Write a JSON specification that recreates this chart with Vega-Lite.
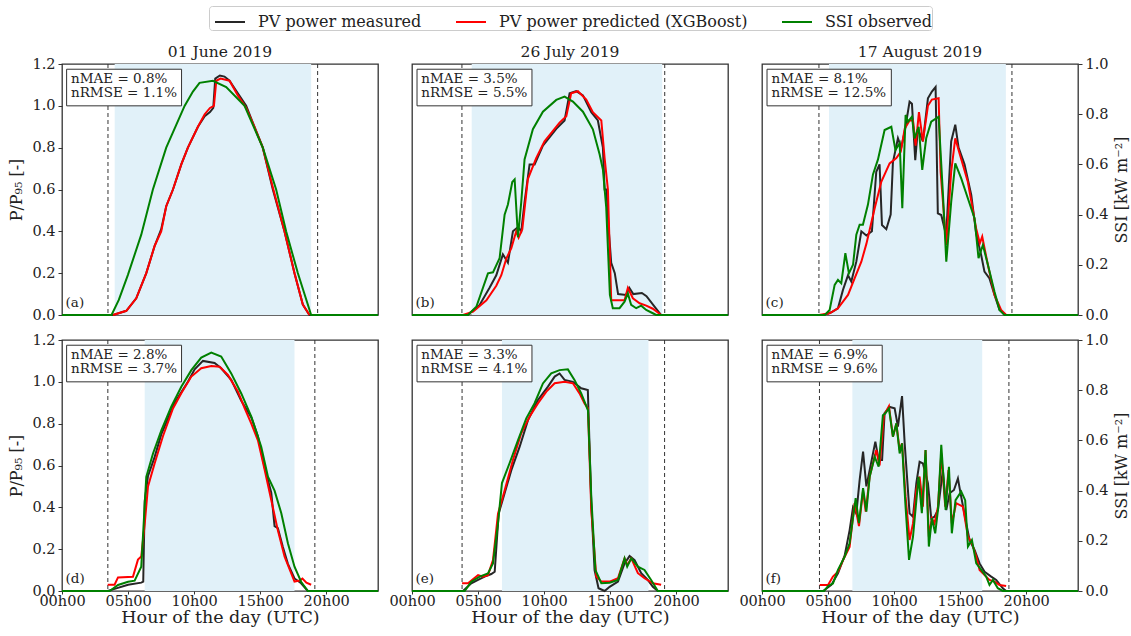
{
"$schema": "https://vega.github.io/schema/vega-lite/v6.json",
"padding": {"left": 8, "top": 5, "right": 5, "bottom": 5},
"background": "white",
"datasets": {
"aM": [{"h":0,"v":0},{"h":3.86,"v":0},{"h":4.87,"v":0.02},{"h":5.62,"v":0.08},{"h":6.38,"v":0.2},{"h":7.01,"v":0.33},{"h":7.51,"v":0.41},{"h":7.89,"v":0.52},{"h":8.4,"v":0.6},{"h":9.03,"v":0.72},{"h":9.53,"v":0.8},{"h":10.29,"v":0.9},{"h":10.8,"v":0.95},{"h":11.2,"v":0.97},{"h":11.45,"v":0.99},{"h":11.6,"v":1.13},{"h":11.95,"v":1.145},{"h":12.3,"v":1.14},{"h":12.68,"v":1.12},{"h":13.31,"v":1.06},{"h":13.94,"v":1.0},{"h":14.5,"v":0.91},{"h":15.2,"v":0.8},{"h":15.96,"v":0.6},{"h":16.84,"v":0.4},{"h":17.6,"v":0.2},{"h":18.23,"v":0.05},{"h":18.73,"v":0},{"h":23.92,"v":0}],
"aX": [{"h":3.86,"v":0},{"h":4.87,"v":0.02},{"h":5.62,"v":0.08},{"h":6.38,"v":0.2},{"h":7.01,"v":0.33},{"h":7.51,"v":0.4},{"h":7.89,"v":0.52},{"h":8.4,"v":0.6},{"h":9.03,"v":0.72},{"h":9.53,"v":0.8},{"h":10.29,"v":0.9},{"h":10.8,"v":0.96},{"h":11.2,"v":0.99},{"h":11.5,"v":1.0},{"h":11.68,"v":1.12},{"h":12.0,"v":1.13},{"h":12.68,"v":1.12},{"h":13.31,"v":1.05},{"h":13.94,"v":0.99},{"h":14.5,"v":0.91},{"h":15.2,"v":0.8},{"h":15.96,"v":0.61},{"h":16.84,"v":0.4},{"h":17.6,"v":0.2},{"h":18.23,"v":0.05},{"h":18.73,"v":0}],
"aS": [{"h":0,"v":0},{"h":3.75,"v":0},{"h":4.3,"v":0.06},{"h":4.99,"v":0.16},{"h":6.0,"v":0.32},{"h":6.88,"v":0.5},{"h":7.89,"v":0.667},{"h":9.28,"v":0.833},{"h":9.91,"v":0.89},{"h":10.41,"v":0.925},{"h":11.42,"v":0.933},{"h":12.43,"v":0.908},{"h":13.82,"v":0.833},{"h":15.2,"v":0.667},{"h":16.21,"v":0.5},{"h":16.97,"v":0.333},{"h":17.85,"v":0.167},{"h":18.86,"v":0},{"h":23.92,"v":0}],
"bM": [{"h":0,"v":0},{"h":4.2,"v":0},{"h":5.12,"v":0.048},{"h":5.87,"v":0.13},{"h":6.38,"v":0.19},{"h":6.88,"v":0.29},{"h":7.26,"v":0.25},{"h":7.64,"v":0.4},{"h":8.02,"v":0.42},{"h":8.27,"v":0.4},{"h":8.52,"v":0.54},{"h":8.9,"v":0.72},{"h":9.28,"v":0.72},{"h":9.91,"v":0.81},{"h":10.92,"v":0.89},{"h":11.55,"v":0.93},{"h":11.93,"v":1.06},{"h":12.43,"v":1.07},{"h":12.94,"v":1.05},{"h":13.57,"v":0.97},{"h":14.07,"v":0.93},{"h":14.45,"v":0.8},{"h":14.58,"v":0.6},{"h":14.72,"v":0.6},{"h":14.9,"v":0.4},{"h":15.08,"v":0.25},{"h":15.35,"v":0.2},{"h":15.6,"v":0.1},{"h":16.2,"v":0.096},{"h":16.45,"v":0.13},{"h":16.75,"v":0.1},{"h":17.4,"v":0.105},{"h":17.75,"v":0.09},{"h":18.3,"v":0.045},{"h":18.86,"v":0},{"h":23.92,"v":0}],
"bX": [{"h":3.86,"v":0},{"h":4.62,"v":0.016},{"h":5.63,"v":0.07},{"h":6.38,"v":0.14},{"h":6.76,"v":0.19},{"h":7.14,"v":0.27},{"h":7.52,"v":0.32},{"h":7.89,"v":0.4},{"h":8.07,"v":0.37},{"h":8.35,"v":0.41},{"h":8.77,"v":0.65},{"h":9.4,"v":0.75},{"h":10.03,"v":0.83},{"h":10.67,"v":0.88},{"h":11.17,"v":0.92},{"h":11.68,"v":0.95},{"h":12.05,"v":1.06},{"h":12.56,"v":1.07},{"h":13.19,"v":1.03},{"h":13.69,"v":0.97},{"h":14.33,"v":0.93},{"h":14.58,"v":0.75},{"h":14.83,"v":0.6},{"h":15.08,"v":0.07},{"h":15.71,"v":0.07},{"h":16.09,"v":0.07},{"h":16.34,"v":0.13},{"h":16.72,"v":0.08},{"h":17.23,"v":0.056},{"h":17.73,"v":0.045},{"h":18.23,"v":0.03},{"h":18.86,"v":0}],
"bS": [{"h":0,"v":0},{"h":4.24,"v":0},{"h":4.87,"v":0.033},{"h":5.75,"v":0.166},{"h":6.13,"v":0.17},{"h":6.63,"v":0.226},{"h":7.01,"v":0.4},{"h":7.26,"v":0.44},{"h":7.59,"v":0.53},{"h":7.77,"v":0.54},{"h":8.02,"v":0.31},{"h":8.27,"v":0.45},{"h":8.52,"v":0.62},{"h":9.15,"v":0.74},{"h":9.91,"v":0.81},{"h":10.92,"v":0.857},{"h":11.55,"v":0.87},{"h":12.18,"v":0.85},{"h":12.94,"v":0.81},{"h":13.69,"v":0.74},{"h":14.2,"v":0.64},{"h":14.45,"v":0.58},{"h":14.7,"v":0.43},{"h":14.98,"v":0.08},{"h":15.2,"v":0.027},{"h":15.71,"v":0.027},{"h":16.09,"v":0.053},{"h":16.34,"v":0.086},{"h":16.59,"v":0.04},{"h":16.97,"v":0.027},{"h":17.35,"v":0.037},{"h":17.73,"v":0.02},{"h":18.23,"v":0.007},{"h":18.48,"v":0},{"h":23.92,"v":0}],
"cM": [{"h":0,"v":0},{"h":4.62,"v":0},{"h":5.25,"v":0.013},{"h":5.75,"v":0.032},{"h":6.13,"v":0.12},{"h":6.51,"v":0.19},{"h":6.76,"v":0.16},{"h":7.14,"v":0.255},{"h":7.52,"v":0.4},{"h":7.9,"v":0.38},{"h":8.32,"v":0.4},{"h":8.65,"v":0.685},{"h":8.9,"v":0.72},{"h":9.08,"v":0.43},{"h":9.41,"v":0.41},{"h":9.74,"v":0.48},{"h":9.91,"v":0.73},{"h":10.29,"v":0.845},{"h":10.54,"v":0.8},{"h":10.8,"v":0.876},{"h":11.17,"v":1.02},{"h":11.35,"v":1.01},{"h":11.6,"v":0.74},{"h":11.8,"v":0.89},{"h":12.18,"v":0.83},{"h":12.56,"v":1.036},{"h":12.86,"v":1.068},{"h":13.14,"v":1.09},{"h":13.31,"v":0.486},{"h":13.57,"v":0.478},{"h":13.94,"v":0.38},{"h":14.32,"v":0.83},{"h":14.63,"v":0.91},{"h":14.88,"v":0.8},{"h":15.33,"v":0.72},{"h":15.84,"v":0.574},{"h":16.21,"v":0.39},{"h":16.59,"v":0.287},{"h":16.84,"v":0.207},{"h":17.22,"v":0.175},{"h":17.6,"v":0.096},{"h":17.98,"v":0.024},{"h":18.48,"v":0},{"h":23.92,"v":0}],
"cX": [{"h":4.31,"v":0},{"h":5.12,"v":0.008},{"h":5.75,"v":0.032},{"h":6.51,"v":0.096},{"h":7.01,"v":0.175},{"h":7.52,"v":0.255},{"h":7.9,"v":0.34},{"h":8.53,"v":0.51},{"h":9.03,"v":0.637},{"h":9.66,"v":0.725},{"h":10.17,"v":0.75},{"h":10.5,"v":0.78},{"h":10.8,"v":0.89},{"h":11.17,"v":0.93},{"h":11.43,"v":0.93},{"h":11.63,"v":0.81},{"h":11.88,"v":0.97},{"h":12.18,"v":0.83},{"h":12.56,"v":1.0},{"h":12.86,"v":1.03},{"h":13.37,"v":1.036},{"h":13.52,"v":0.685},{"h":13.95,"v":0.335},{"h":14.32,"v":0.685},{"h":14.63,"v":0.845},{"h":14.95,"v":0.773},{"h":15.58,"v":0.637},{"h":16.21,"v":0.414},{"h":16.49,"v":0.343},{"h":16.67,"v":0.375},{"h":17.1,"v":0.239},{"h":17.6,"v":0.096},{"h":18.1,"v":0.024},{"h":18.48,"v":0}],
"cS": [{"h":0,"v":0},{"h":4.75,"v":0},{"h":5.12,"v":0.02},{"h":5.5,"v":0.12},{"h":5.75,"v":0.14},{"h":6.0,"v":0.126},{"h":6.31,"v":0.246},{"h":6.58,"v":0.166},{"h":6.89,"v":0.2},{"h":7.14,"v":0.32},{"h":7.39,"v":0.36},{"h":7.64,"v":0.36},{"h":8.02,"v":0.44},{"h":8.4,"v":0.56},{"h":8.78,"v":0.62},{"h":9.28,"v":0.737},{"h":9.79,"v":0.75},{"h":10.1,"v":0.657},{"h":10.42,"v":0.684},{"h":10.62,"v":0.425},{"h":10.87,"v":0.797},{"h":11.05,"v":0.77},{"h":11.35,"v":0.79},{"h":11.55,"v":0.704},{"h":11.86,"v":0.75},{"h":12.13,"v":0.578},{"h":12.43,"v":0.704},{"h":12.81,"v":0.77},{"h":13.37,"v":0.79},{"h":13.7,"v":0.478},{"h":13.95,"v":0.212},{"h":14.32,"v":0.45},{"h":14.63,"v":0.604},{"h":15.08,"v":0.544},{"h":15.58,"v":0.465},{"h":16.09,"v":0.385},{"h":16.39,"v":0.226},{"h":16.72,"v":0.279},{"h":17.1,"v":0.2},{"h":17.6,"v":0.093},{"h":17.98,"v":0.02},{"h":18.35,"v":0},{"h":23.92,"v":0}],
"dM": [{"h":0,"v":0},{"h":3.46,"v":0},{"h":3.98,"v":0.01},{"h":5.0,"v":0.03},{"h":6.0,"v":0.04},{"h":6.15,"v":0.045},{"h":6.26,"v":0.43},{"h":6.51,"v":0.55},{"h":7.01,"v":0.64},{"h":7.52,"v":0.75},{"h":8.53,"v":0.9},{"h":9.53,"v":1.0},{"h":10.04,"v":1.06},{"h":10.67,"v":1.1},{"h":11.55,"v":1.09},{"h":12.05,"v":1.065},{"h":12.81,"v":1.01},{"h":13.57,"v":0.91},{"h":14.33,"v":0.83},{"h":14.83,"v":0.74},{"h":15.34,"v":0.59},{"h":15.84,"v":0.47},{"h":16.09,"v":0.31},{"h":16.34,"v":0.3},{"h":16.72,"v":0.21},{"h":17.1,"v":0.13},{"h":17.6,"v":0.06},{"h":18.1,"v":0.037},{"h":18.61,"v":0},{"h":23.92,"v":0}],
"dX": [{"h":3.46,"v":0.03},{"h":3.98,"v":0.03},{"h":4.24,"v":0.065},{"h":5.37,"v":0.068},{"h":5.75,"v":0.15},{"h":6.0,"v":0.165},{"h":6.26,"v":0.32},{"h":6.51,"v":0.5},{"h":7.01,"v":0.61},{"h":7.64,"v":0.74},{"h":8.4,"v":0.873},{"h":9.03,"v":0.945},{"h":9.79,"v":1.025},{"h":10.54,"v":1.065},{"h":11.3,"v":1.076},{"h":11.93,"v":1.072},{"h":12.56,"v":1.033},{"h":13.32,"v":0.953},{"h":13.83,"v":0.873},{"h":14.33,"v":0.8},{"h":14.83,"v":0.72},{"h":15.34,"v":0.58},{"h":15.84,"v":0.435},{"h":16.34,"v":0.29},{"h":16.85,"v":0.164},{"h":17.6,"v":0.045},{"h":17.98,"v":0.05},{"h":18.2,"v":0.06},{"h":18.5,"v":0.04},{"h":18.86,"v":0.03}],
"dS": [{"h":0,"v":0},{"h":3.61,"v":0},{"h":4.24,"v":0.024},{"h":5.0,"v":0.037},{"h":5.5,"v":0.041},{"h":6.0,"v":0.097},{"h":6.38,"v":0.455},{"h":6.89,"v":0.548},{"h":7.52,"v":0.64},{"h":8.27,"v":0.734},{"h":9.03,"v":0.814},{"h":9.79,"v":0.88},{"h":10.54,"v":0.93},{"h":11.3,"v":0.95},{"h":12.05,"v":0.934},{"h":12.81,"v":0.867},{"h":13.57,"v":0.787},{"h":14.33,"v":0.695},{"h":15.08,"v":0.575},{"h":15.59,"v":0.455},{"h":16.09,"v":0.4},{"h":16.6,"v":0.31},{"h":17.1,"v":0.19},{"h":17.6,"v":0.097},{"h":18.1,"v":0.037},{"h":18.61,"v":0},{"h":23.92,"v":0}],
"eM": [{"h":0,"v":0},{"h":3.86,"v":0},{"h":4.49,"v":0.037},{"h":5.0,"v":0.053},{"h":5.5,"v":0.069},{"h":6.0,"v":0.081},{"h":6.26,"v":0.092},{"h":6.56,"v":0.37},{"h":7.01,"v":0.467},{"h":7.52,"v":0.578},{"h":8.15,"v":0.69},{"h":8.78,"v":0.817},{"h":9.53,"v":0.913},{"h":10.29,"v":0.977},{"h":10.8,"v":1.025},{"h":11.17,"v":1.04},{"h":11.55,"v":1.009},{"h":12.18,"v":1.0},{"h":12.81,"v":0.969},{"h":13.31,"v":0.961},{"h":13.57,"v":0.42},{"h":13.82,"v":0.1},{"h":14.12,"v":0.013},{"h":14.58,"v":0},{"h":14.96,"v":0.02},{"h":15.59,"v":0.045},{"h":16.09,"v":0.132},{"h":16.47,"v":0.167},{"h":16.85,"v":0.148},{"h":17.35,"v":0.085},{"h":17.85,"v":0.053},{"h":18.23,"v":0.02},{"h":18.61,"v":0},{"h":23.92,"v":0}],
"eX": [{"h":3.79,"v":0.037},{"h":4.24,"v":0.037},{"h":5.0,"v":0.076},{"h":5.37,"v":0.068},{"h":5.75,"v":0.076},{"h":6.13,"v":0.148},{"h":6.51,"v":0.37},{"h":7.01,"v":0.48},{"h":7.64,"v":0.626},{"h":8.27,"v":0.754},{"h":8.9,"v":0.833},{"h":9.53,"v":0.897},{"h":10.17,"v":0.953},{"h":10.8,"v":0.993},{"h":11.55,"v":1.0},{"h":12.18,"v":0.993},{"h":12.68,"v":0.945},{"h":13.06,"v":0.897},{"h":13.32,"v":0.873},{"h":13.57,"v":0.387},{"h":13.95,"v":0.069},{"h":14.33,"v":0.045},{"h":14.96,"v":0.045},{"h":15.59,"v":0.061},{"h":16.09,"v":0.156},{"h":16.29,"v":0.124},{"h":16.6,"v":0.156},{"h":17.1,"v":0.085},{"h":17.6,"v":0.061},{"h":18.23,"v":0.037},{"h":18.86,"v":0.03}],
"eS": [{"h":0,"v":0},{"h":3.99,"v":0},{"h":4.49,"v":0.037},{"h":5.12,"v":0.057},{"h":5.75,"v":0.07},{"h":6.13,"v":0.11},{"h":6.51,"v":0.27},{"h":6.81,"v":0.43},{"h":7.39,"v":0.51},{"h":8.02,"v":0.6},{"h":8.65,"v":0.688},{"h":9.28,"v":0.748},{"h":9.91,"v":0.827},{"h":10.54,"v":0.867},{"h":11.17,"v":0.88},{"h":11.8,"v":0.883},{"h":12.31,"v":0.84},{"h":12.81,"v":0.787},{"h":13.32,"v":0.72},{"h":13.57,"v":0.376},{"h":13.88,"v":0.084},{"h":14.33,"v":0.031},{"h":14.96,"v":0.033},{"h":15.59,"v":0.044},{"h":16.09,"v":0.13},{"h":16.29,"v":0.097},{"h":16.6,"v":0.13},{"h":17.1,"v":0.097},{"h":17.6,"v":0.084},{"h":18.1,"v":0.044},{"h":18.61,"v":0},{"h":23.92,"v":0}],
"fM": [{"h":0,"v":0},{"h":4.62,"v":0},{"h":5.25,"v":0.029},{"h":5.75,"v":0.084},{"h":6.26,"v":0.17},{"h":6.63,"v":0.29},{"h":6.89,"v":0.4},{"h":7.14,"v":0.37},{"h":7.39,"v":0.53},{"h":7.65,"v":0.666},{"h":7.9,"v":0.5},{"h":8.15,"v":0.578},{"h":8.58,"v":0.714},{"h":8.83,"v":0.626},{"h":9.09,"v":0.626},{"h":9.28,"v":0.85},{"h":9.66,"v":0.88},{"h":10.04,"v":0.873},{"h":10.29,"v":0.786},{"h":10.6,"v":0.932},{"h":10.8,"v":0.706},{"h":11.17,"v":0.371},{"h":11.43,"v":0.355},{"h":11.68,"v":0.515},{"h":11.93,"v":0.618},{"h":12.18,"v":0.61},{"h":12.56,"v":0.515},{"h":12.81,"v":0.347},{"h":13.06,"v":0.355},{"h":13.32,"v":0.387},{"h":13.69,"v":0.578},{"h":13.95,"v":0.387},{"h":14.2,"v":0.467},{"h":14.53,"v":0.483},{"h":14.83,"v":0.538},{"h":15.08,"v":0.45},{"h":15.46,"v":0.323},{"h":15.71,"v":0.244},{"h":16.09,"v":0.196},{"h":16.47,"v":0.132},{"h":16.85,"v":0.092},{"h":17.35,"v":0.069},{"h":17.73,"v":0.053},{"h":18.23,"v":0.013},{"h":18.48,"v":0},{"h":23.92,"v":0}],
"fX": [{"h":4.37,"v":0.029},{"h":5.0,"v":0.029},{"h":5.37,"v":0.069},{"h":5.75,"v":0.092},{"h":6.26,"v":0.164},{"h":6.63,"v":0.21},{"h":7.01,"v":0.42},{"h":7.34,"v":0.31},{"h":7.65,"v":0.48},{"h":7.85,"v":0.38},{"h":8.15,"v":0.547},{"h":8.65,"v":0.674},{"h":8.9,"v":0.6},{"h":9.23,"v":0.84},{"h":9.61,"v":0.884},{"h":9.91,"v":0.738},{"h":10.17,"v":0.8},{"h":10.42,"v":0.674},{"h":10.6,"v":0.706},{"h":10.87,"v":0.45},{"h":11.17,"v":0.244},{"h":11.43,"v":0.323},{"h":11.68,"v":0.483},{"h":11.93,"v":0.547},{"h":12.18,"v":0.403},{"h":12.38,"v":0.674},{"h":12.63,"v":0.26},{"h":12.86,"v":0.347},{"h":13.06,"v":0.323},{"h":13.32,"v":0.403},{"h":13.57,"v":0.658},{"h":13.87,"v":0.403},{"h":14.12,"v":0.578},{"h":14.37,"v":0.323},{"h":14.7,"v":0.42},{"h":15.21,"v":0.403},{"h":15.59,"v":0.26},{"h":15.89,"v":0.228},{"h":16.22,"v":0.164},{"h":16.47,"v":0.1},{"h":16.85,"v":0.076},{"h":17.22,"v":0.053},{"h":17.6,"v":0.045},{"h":17.98,"v":0.029},{"h":18.48,"v":0.024}],
"fS": [{"h":0,"v":0},{"h":4.7,"v":0},{"h":5.0,"v":0.02},{"h":5.37,"v":0.03},{"h":5.75,"v":0.084},{"h":6.26,"v":0.137},{"h":6.63,"v":0.19},{"h":7.09,"v":0.37},{"h":7.34,"v":0.27},{"h":7.65,"v":0.41},{"h":7.9,"v":0.316},{"h":8.15,"v":0.455},{"h":8.53,"v":0.535},{"h":8.83,"v":0.495},{"h":9.15,"v":0.7},{"h":9.34,"v":0.708},{"h":9.61,"v":0.728},{"h":9.91,"v":0.615},{"h":10.17,"v":0.668},{"h":10.42,"v":0.548},{"h":10.6,"v":0.588},{"h":10.85,"v":0.35},{"h":11.13,"v":0.124},{"h":11.43,"v":0.216},{"h":11.85,"v":0.455},{"h":12.1,"v":0.31},{"h":12.38,"v":0.562},{"h":12.63,"v":0.177},{"h":12.86,"v":0.29},{"h":13.11,"v":0.23},{"h":13.32,"v":0.323},{"h":13.57,"v":0.582},{"h":13.9,"v":0.323},{"h":14.15,"v":0.495},{"h":14.37,"v":0.23},{"h":14.65,"v":0.362},{"h":15.08,"v":0.396},{"h":15.38,"v":0.362},{"h":15.59,"v":0.177},{"h":15.89,"v":0.203},{"h":16.22,"v":0.11},{"h":16.6,"v":0.084},{"h":16.97,"v":0.057},{"h":17.22,"v":0.024},{"h":17.48,"v":0.044},{"h":17.85,"v":0.011},{"h":18.23,"v":0},{"h":23.92,"v":0}]
},
"config": {
"font": "DejaVu Serif",
"view": {"stroke": "#333333", "strokeWidth": 1.3},
"axis": {"labelFont": "DejaVu Serif", "labelFontSize": 14.5, "labelColor": "#222222", "titleFont": "DejaVu Serif", "titleFontSize": 16, "titleFontWeight": "normal", "titleColor": "#222222", "grid": false, "domain": false, "tickColor": "#333333", "tickSize": 4, "labelPadding": 3},
"title": {"font": "DejaVu Serif", "fontSize": 15.5, "fontWeight": "normal", "color": "#222222", "offset": 3},
"legend": {"orient": "none", "legendX": 147, "legendY": -58, "direction": "horizontal", "labelFont": "DejaVu Serif", "labelFontSize": 16, "labelColor": "#222222", "symbolType": "stroke", "symbolSize": 900, "symbolStrokeWidth": 2, "labelOffset": 12, "columnPadding": 28, "padding": 0, "symbolOffset": 5, "strokeColor": "#cccccc", "cornerRadius": 3, "fillColor": "white", "labelLimit": 400}
},
"concat": [
{"width": 316, "height": 251, "title": {"text": "01 June 2019", "offset": -4},
 "encoding": {"x": {"field": "h", "type": "quantitative", "scale": {"domain": [0, 23.92], "nice": false, "zero": false}, "axis": null}},
 "layer": [
  {"data": {"values": [{"h": 3.99, "h2": 18.86}]}, "mark": {"type": "rect", "color": "#e1f1f9"}, "encoding": {"x2": {"field": "h2"}}},
  {"data": {"values": [{"h": 3.48}, {"h": 19.35}]}, "mark": {"type": "rule", "color": "#333333", "strokeDash": [4, 3], "strokeWidth": 1}, "encoding": {}},
  {"data": {"name": "aM"}, "mark": {"type": "line", "strokeWidth": 2}, "encoding": {"y": {"field": "v", "type": "quantitative", "scale": {"domain": [0, 1.2], "nice": false}, "axis": {"values": [0, 0.2, 0.4, 0.6, 0.8, 1, 1.2], "format": ".1f", "title": "P/P₉₅ [-]", "titlePadding": 7}}, "color": {"datum": "PV power measured", "type": "nominal", "scale": {"domain": ["PV power measured", "PV power predicted (XGBoost)", "SSI observed"], "range": ["#262626", "#ff0000", "#008000"]}, "legend": {"title": null}}}},
  {"data": {"name": "aX"}, "mark": {"type": "line", "strokeWidth": 2}, "encoding": {"y": {"field": "v", "type": "quantitative", "scale": {"domain": [0, 1.2], "nice": false}, "axis": null}, "color": {"datum": "PV power predicted (XGBoost)", "type": "nominal", "scale": {"domain": ["PV power measured", "PV power predicted (XGBoost)", "SSI observed"], "range": ["#262626", "#ff0000", "#008000"]}, "legend": {"title": null}}}},
  {"data": {"name": "aS"}, "mark": {"type": "line", "strokeWidth": 2}, "encoding": {"y": {"field": "v", "type": "quantitative", "scale": {"domain": [0, 1], "nice": false}, "axis": null}, "color": {"datum": "SSI observed", "type": "nominal", "scale": {"domain": ["PV power measured", "PV power predicted (XGBoost)", "SSI observed"], "range": ["#262626", "#ff0000", "#008000"]}, "legend": {"title": null}}}},
  {"data": {"values": [{"h": 0.35, "h2": 9.05, "v": 1.0, "v2": 1.175}]}, "mark": {"type": "rect", "fill": "white", "stroke": "#333333", "strokeWidth": 1}, "encoding": {"x2": {"field": "h2"}, "y": {"field": "v", "type": "quantitative", "scale": {"domain": [0, 1.2], "nice": false}, "axis": null}, "y2": {"field": "v2"}}},
  {"data": {"values": [{"h": 0.68, "v": 1.128, "t": "nMAE = 0.8%"}, {"h": 0.68, "v": 1.059, "t": "nRMSE = 1.1%"}, {"h": 0.27, "v": 0.055, "t": "(a)"}]}, "mark": {"type": "text", "align": "left", "baseline": "middle", "fontSize": 13.5, "font": "DejaVu Serif", "color": "#222222"}, "encoding": {"y": {"field": "v", "type": "quantitative", "scale": {"domain": [0, 1.2], "nice": false}, "axis": null}, "text": {"field": "t"}}}
 ],
 "resolve": {"scale": {"y": "independent"}}
},
{"width": 316, "height": 251, "title": {"text": "26 July 2019", "offset": 3},
 "encoding": {"x": {"field": "h", "type": "quantitative", "scale": {"domain": [0, 23.92], "nice": false, "zero": false}, "axis": null}},
 "layer": [
  {"data": {"values": [{"h": 4.52, "h2": 18.94}]}, "mark": {"type": "rect", "color": "#e1f1f9"}, "encoding": {"x2": {"field": "h2"}}},
  {"data": {"values": [{"h": 3.78}, {"h": 19.13}]}, "mark": {"type": "rule", "color": "#333333", "strokeDash": [4, 3], "strokeWidth": 1}, "encoding": {}},
  {"data": {"name": "bM"}, "mark": {"type": "line", "strokeWidth": 2}, "encoding": {"y": {"field": "v", "type": "quantitative", "scale": {"domain": [0, 1.2], "nice": false}, "axis": null}, "color": {"datum": "PV power measured", "type": "nominal", "scale": {"domain": ["PV power measured", "PV power predicted (XGBoost)", "SSI observed"], "range": ["#262626", "#ff0000", "#008000"]}, "legend": {"title": null}}}},
  {"data": {"name": "bX"}, "mark": {"type": "line", "strokeWidth": 2}, "encoding": {"y": {"field": "v", "type": "quantitative", "scale": {"domain": [0, 1.2], "nice": false}, "axis": null}, "color": {"datum": "PV power predicted (XGBoost)", "type": "nominal", "scale": {"domain": ["PV power measured", "PV power predicted (XGBoost)", "SSI observed"], "range": ["#262626", "#ff0000", "#008000"]}, "legend": {"title": null}}}},
  {"data": {"name": "bS"}, "mark": {"type": "line", "strokeWidth": 2}, "encoding": {"y": {"field": "v", "type": "quantitative", "scale": {"domain": [0, 1], "nice": false}, "axis": null}, "color": {"datum": "SSI observed", "type": "nominal", "scale": {"domain": ["PV power measured", "PV power predicted (XGBoost)", "SSI observed"], "range": ["#262626", "#ff0000", "#008000"]}, "legend": {"title": null}}}},
  {"data": {"values": [{"h": 0.38, "h2": 9.08, "v": 1.0, "v2": 1.175}]}, "mark": {"type": "rect", "fill": "white", "stroke": "#333333", "strokeWidth": 1}, "encoding": {"x2": {"field": "h2"}, "y": {"field": "v", "type": "quantitative", "scale": {"domain": [0, 1.2], "nice": false}, "axis": null}, "y2": {"field": "v2"}}},
  {"data": {"values": [{"h": 0.7, "v": 1.128, "t": "nMAE = 3.5%"}, {"h": 0.7, "v": 1.059, "t": "nRMSE = 5.5%"}, {"h": 0.27, "v": 0.055, "t": "(b)"}]}, "mark": {"type": "text", "align": "left", "baseline": "middle", "fontSize": 13.5, "font": "DejaVu Serif", "color": "#222222"}, "encoding": {"y": {"field": "v", "type": "quantitative", "scale": {"domain": [0, 1.2], "nice": false}, "axis": null}, "text": {"field": "t"}}}
 ],
 "resolve": {"scale": {"y": "independent"}}
},
{"width": 316, "height": 251, "title": {"text": "17 August 2019", "offset": -4},
 "encoding": {"x": {"field": "h", "type": "quantitative", "scale": {"domain": [0, 23.92], "nice": false, "zero": false}, "axis": null}},
 "layer": [
  {"data": {"values": [{"h": 5.07, "h2": 18.46}]}, "mark": {"type": "rect", "color": "#e1f1f9"}, "encoding": {"x2": {"field": "h2"}}},
  {"data": {"values": [{"h": 4.31}, {"h": 18.92}]}, "mark": {"type": "rule", "color": "#333333", "strokeDash": [4, 3], "strokeWidth": 1}, "encoding": {}},
  {"data": {"name": "cM"}, "mark": {"type": "line", "strokeWidth": 2}, "encoding": {"y": {"field": "v", "type": "quantitative", "scale": {"domain": [0, 1.2], "nice": false}, "axis": null}, "color": {"datum": "PV power measured", "type": "nominal", "scale": {"domain": ["PV power measured", "PV power predicted (XGBoost)", "SSI observed"], "range": ["#262626", "#ff0000", "#008000"]}, "legend": {"title": null}}}},
  {"data": {"name": "cX"}, "mark": {"type": "line", "strokeWidth": 2}, "encoding": {"y": {"field": "v", "type": "quantitative", "scale": {"domain": [0, 1.2], "nice": false}, "axis": null}, "color": {"datum": "PV power predicted (XGBoost)", "type": "nominal", "scale": {"domain": ["PV power measured", "PV power predicted (XGBoost)", "SSI observed"], "range": ["#262626", "#ff0000", "#008000"]}, "legend": {"title": null}}}},
  {"data": {"name": "cS"}, "mark": {"type": "line", "strokeWidth": 2}, "encoding": {"y": {"field": "v", "type": "quantitative", "scale": {"domain": [0, 1], "nice": false}, "axis": {"orient": "right", "values": [0, 0.2, 0.4, 0.6, 0.8, 1], "format": ".1f", "title": "SSI [kW m⁻²]", "titleAngle": 270, "titleBaseline": "top", "titlePadding": 5}}, "color": {"datum": "SSI observed", "type": "nominal", "scale": {"domain": ["PV power measured", "PV power predicted (XGBoost)", "SSI observed"], "range": ["#262626", "#ff0000", "#008000"]}, "legend": {"title": null}}}},
  {"data": {"values": [{"h": 0.38, "h2": 9.79, "v": 1.0, "v2": 1.175}]}, "mark": {"type": "rect", "fill": "white", "stroke": "#333333", "strokeWidth": 1}, "encoding": {"x2": {"field": "h2"}, "y": {"field": "v", "type": "quantitative", "scale": {"domain": [0, 1.2], "nice": false}, "axis": null}, "y2": {"field": "v2"}}},
  {"data": {"values": [{"h": 0.72, "v": 1.128, "t": "nMAE = 8.1%"}, {"h": 0.72, "v": 1.059, "t": "nRMSE = 12.5%"}, {"h": 0.27, "v": 0.055, "t": "(c)"}]}, "mark": {"type": "text", "align": "left", "baseline": "middle", "fontSize": 13.5, "font": "DejaVu Serif", "color": "#222222"}, "encoding": {"y": {"field": "v", "type": "quantitative", "scale": {"domain": [0, 1.2], "nice": false}, "axis": null}, "text": {"field": "t"}}}
 ],
 "resolve": {"scale": {"y": "independent"}}
},
{"width": 316, "height": 251,
 "encoding": {"x": {"field": "h", "type": "quantitative", "scale": {"domain": [0, 23.92], "nice": false, "zero": false}, "axis": {"values": [0, 5, 10, 15, 20], "labelExpr": "(datum.value < 10 ? '0' : '') + datum.value + 'h00'", "labelOverlap": false, "labelFlush": false, "title": "Hour of the day (UTC)", "titleFontSize": 17.5, "tickSize": 3, "labelPadding": 0, "titlePadding": 1}}},
 "layer": [
  {"data": {"values": [{"h": 6.26, "h2": 17.6}]}, "mark": {"type": "rect", "color": "#e1f1f9"}, "encoding": {"x2": {"field": "h2"}}},
  {"data": {"values": [{"h": 3.47}, {"h": 19.14}]}, "mark": {"type": "rule", "color": "#333333", "strokeDash": [4, 3], "strokeWidth": 1}, "encoding": {}},
  {"data": {"name": "dM"}, "mark": {"type": "line", "strokeWidth": 2}, "encoding": {"y": {"field": "v", "type": "quantitative", "scale": {"domain": [0, 1.2], "nice": false}, "axis": {"values": [0, 0.2, 0.4, 0.6, 0.8, 1, 1.2], "format": ".1f", "title": "P/P₉₅ [-]", "titlePadding": 7}}, "color": {"datum": "PV power measured", "type": "nominal", "scale": {"domain": ["PV power measured", "PV power predicted (XGBoost)", "SSI observed"], "range": ["#262626", "#ff0000", "#008000"]}, "legend": {"title": null}}}},
  {"data": {"name": "dX"}, "mark": {"type": "line", "strokeWidth": 2}, "encoding": {"y": {"field": "v", "type": "quantitative", "scale": {"domain": [0, 1.2], "nice": false}, "axis": null}, "color": {"datum": "PV power predicted (XGBoost)", "type": "nominal", "scale": {"domain": ["PV power measured", "PV power predicted (XGBoost)", "SSI observed"], "range": ["#262626", "#ff0000", "#008000"]}, "legend": {"title": null}}}},
  {"data": {"name": "dS"}, "mark": {"type": "line", "strokeWidth": 2}, "encoding": {"y": {"field": "v", "type": "quantitative", "scale": {"domain": [0, 1], "nice": false}, "axis": null}, "color": {"datum": "SSI observed", "type": "nominal", "scale": {"domain": ["PV power measured", "PV power predicted (XGBoost)", "SSI observed"], "range": ["#262626", "#ff0000", "#008000"]}, "legend": {"title": null}}}},
  {"data": {"values": [{"h": 0.35, "h2": 9.05, "v": 1.0, "v2": 1.175}]}, "mark": {"type": "rect", "fill": "white", "stroke": "#333333", "strokeWidth": 1}, "encoding": {"x2": {"field": "h2"}, "y": {"field": "v", "type": "quantitative", "scale": {"domain": [0, 1.2], "nice": false}, "axis": null}, "y2": {"field": "v2"}}},
  {"data": {"values": [{"h": 0.68, "v": 1.128, "t": "nMAE = 2.8%"}, {"h": 0.68, "v": 1.059, "t": "nRMSE = 3.7%"}, {"h": 0.27, "v": 0.055, "t": "(d)"}]}, "mark": {"type": "text", "align": "left", "baseline": "middle", "fontSize": 13.5, "font": "DejaVu Serif", "color": "#222222"}, "encoding": {"y": {"field": "v", "type": "quantitative", "scale": {"domain": [0, 1.2], "nice": false}, "axis": null}, "text": {"field": "t"}}}
 ],
 "resolve": {"scale": {"y": "independent"}}
},
{"width": 316, "height": 251,
 "encoding": {"x": {"field": "h", "type": "quantitative", "scale": {"domain": [0, 23.92], "nice": false, "zero": false}, "axis": {"values": [0, 5, 10, 15, 20], "labelExpr": "(datum.value < 10 ? '0' : '') + datum.value + 'h00'", "labelOverlap": false, "labelFlush": false, "title": "Hour of the day (UTC)", "titleFontSize": 17.5, "tickSize": 3, "labelPadding": 0, "titlePadding": 1}}},
 "layer": [
  {"data": {"values": [{"h": 6.81, "h2": 17.9}]}, "mark": {"type": "rect", "color": "#e1f1f9"}, "encoding": {"x2": {"field": "h2"}}},
  {"data": {"values": [{"h": 3.79}, {"h": 19.12}]}, "mark": {"type": "rule", "color": "#333333", "strokeDash": [4, 3], "strokeWidth": 1}, "encoding": {}},
  {"data": {"name": "eM"}, "mark": {"type": "line", "strokeWidth": 2}, "encoding": {"y": {"field": "v", "type": "quantitative", "scale": {"domain": [0, 1.2], "nice": false}, "axis": null}, "color": {"datum": "PV power measured", "type": "nominal", "scale": {"domain": ["PV power measured", "PV power predicted (XGBoost)", "SSI observed"], "range": ["#262626", "#ff0000", "#008000"]}, "legend": {"title": null}}}},
  {"data": {"name": "eX"}, "mark": {"type": "line", "strokeWidth": 2}, "encoding": {"y": {"field": "v", "type": "quantitative", "scale": {"domain": [0, 1.2], "nice": false}, "axis": null}, "color": {"datum": "PV power predicted (XGBoost)", "type": "nominal", "scale": {"domain": ["PV power measured", "PV power predicted (XGBoost)", "SSI observed"], "range": ["#262626", "#ff0000", "#008000"]}, "legend": {"title": null}}}},
  {"data": {"name": "eS"}, "mark": {"type": "line", "strokeWidth": 2}, "encoding": {"y": {"field": "v", "type": "quantitative", "scale": {"domain": [0, 1], "nice": false}, "axis": null}, "color": {"datum": "SSI observed", "type": "nominal", "scale": {"domain": ["PV power measured", "PV power predicted (XGBoost)", "SSI observed"], "range": ["#262626", "#ff0000", "#008000"]}, "legend": {"title": null}}}},
  {"data": {"values": [{"h": 0.38, "h2": 9.08, "v": 1.0, "v2": 1.175}]}, "mark": {"type": "rect", "fill": "white", "stroke": "#333333", "strokeWidth": 1}, "encoding": {"x2": {"field": "h2"}, "y": {"field": "v", "type": "quantitative", "scale": {"domain": [0, 1.2], "nice": false}, "axis": null}, "y2": {"field": "v2"}}},
  {"data": {"values": [{"h": 0.7, "v": 1.128, "t": "nMAE = 3.3%"}, {"h": 0.7, "v": 1.059, "t": "nRMSE = 4.1%"}, {"h": 0.27, "v": 0.055, "t": "(e)"}]}, "mark": {"type": "text", "align": "left", "baseline": "middle", "fontSize": 13.5, "font": "DejaVu Serif", "color": "#222222"}, "encoding": {"y": {"field": "v", "type": "quantitative", "scale": {"domain": [0, 1.2], "nice": false}, "axis": null}, "text": {"field": "t"}}}
 ],
 "resolve": {"scale": {"y": "independent"}}
},
{"width": 316, "height": 251,
 "encoding": {"x": {"field": "h", "type": "quantitative", "scale": {"domain": [0, 23.92], "nice": false, "zero": false}, "axis": {"values": [0, 5, 10, 15, 20], "labelExpr": "(datum.value < 10 ? '0' : '') + datum.value + 'h00'", "labelOverlap": false, "labelFlush": false, "title": "Hour of the day (UTC)", "titleFontSize": 17.5, "tickSize": 3, "labelPadding": 0, "titlePadding": 1}}},
 "layer": [
  {"data": {"values": [{"h": 6.84, "h2": 16.67}]}, "mark": {"type": "rect", "color": "#e1f1f9"}, "encoding": {"x2": {"field": "h2"}}},
  {"data": {"values": [{"h": 4.35}, {"h": 18.69}]}, "mark": {"type": "rule", "color": "#333333", "strokeDash": [4, 3], "strokeWidth": 1}, "encoding": {}},
  {"data": {"name": "fM"}, "mark": {"type": "line", "strokeWidth": 2}, "encoding": {"y": {"field": "v", "type": "quantitative", "scale": {"domain": [0, 1.2], "nice": false}, "axis": null}, "color": {"datum": "PV power measured", "type": "nominal", "scale": {"domain": ["PV power measured", "PV power predicted (XGBoost)", "SSI observed"], "range": ["#262626", "#ff0000", "#008000"]}, "legend": {"title": null}}}},
  {"data": {"name": "fX"}, "mark": {"type": "line", "strokeWidth": 2}, "encoding": {"y": {"field": "v", "type": "quantitative", "scale": {"domain": [0, 1.2], "nice": false}, "axis": null}, "color": {"datum": "PV power predicted (XGBoost)", "type": "nominal", "scale": {"domain": ["PV power measured", "PV power predicted (XGBoost)", "SSI observed"], "range": ["#262626", "#ff0000", "#008000"]}, "legend": {"title": null}}}},
  {"data": {"name": "fS"}, "mark": {"type": "line", "strokeWidth": 2}, "encoding": {"y": {"field": "v", "type": "quantitative", "scale": {"domain": [0, 1], "nice": false}, "axis": {"orient": "right", "values": [0, 0.2, 0.4, 0.6, 0.8, 1], "format": ".1f", "title": "SSI [kW m⁻²]", "titleAngle": 270, "titleBaseline": "top", "titlePadding": 5}}, "color": {"datum": "SSI observed", "type": "nominal", "scale": {"domain": ["PV power measured", "PV power predicted (XGBoost)", "SSI observed"], "range": ["#262626", "#ff0000", "#008000"]}, "legend": {"title": null}}}},
  {"data": {"values": [{"h": 0.38, "h2": 9.1, "v": 1.0, "v2": 1.175}]}, "mark": {"type": "rect", "fill": "white", "stroke": "#333333", "strokeWidth": 1}, "encoding": {"x2": {"field": "h2"}, "y": {"field": "v", "type": "quantitative", "scale": {"domain": [0, 1.2], "nice": false}, "axis": null}, "y2": {"field": "v2"}}},
  {"data": {"values": [{"h": 0.72, "v": 1.128, "t": "nMAE = 6.9%"}, {"h": 0.72, "v": 1.059, "t": "nRMSE = 9.6%"}, {"h": 0.27, "v": 0.055, "t": "(f)"}]}, "mark": {"type": "text", "align": "left", "baseline": "middle", "fontSize": 13.5, "font": "DejaVu Serif", "color": "#222222"}, "encoding": {"y": {"field": "v", "type": "quantitative", "scale": {"domain": [0, 1.2], "nice": false}, "axis": null}, "text": {"field": "t"}}}
 ],
 "resolve": {"scale": {"y": "independent"}}
}
],
"columns": 3,
"spacing": {"row": 25, "column": 34},
"bounds": "flush"
}
